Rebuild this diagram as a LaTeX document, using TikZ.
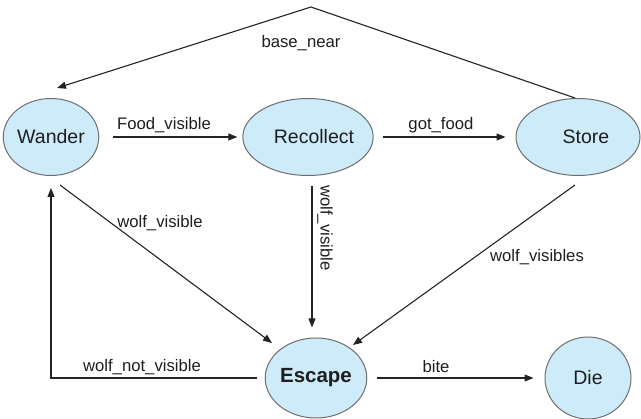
\documentclass[tikz,border=0pt]{standalone}
\usepackage{fontspec}
\setmainfont{Liberation Sans}
\usetikzlibrary{arrows.meta,shapes.geometric}
\definecolor{statefill}{RGB}{206,235,250}
\definecolor{stateline}{RGB}{110,110,110}
\definecolor{wire}{RGB}{35,35,35}
\definecolor{ink}{RGB}{30,30,30}
\begin{document}
\begin{tikzpicture}[x=1pt,y=-1pt,
  state/.style={ellipse,draw=stateline,fill=statefill,line width=1pt,inner sep=0pt,
    text=ink,font=\fontsize{19.5}{20}\selectfont},
  trans/.style={draw=wire,line width=1.1pt,-{Triangle[length=9pt,width=7pt]}},
  lbl/.style={font=\fontsize{16.7}{17}\selectfont,inner sep=0pt,text=ink}]
\useasboundingbox (0,0) rectangle (641,419);

% states
\node[state,minimum width=94,minimum height=77] (W) at (51,137) {Wander};
\node[state,minimum width=126,minimum height=77] (R) at (308,137) {\hspace{12pt}Recollect};
\node[state,minimum width=124,minimum height=77] (S) at (578,137) {\hspace{16pt}Store};
\node[state,minimum width=88,minimum height=80,font=\fontsize{20.5}{21}\selectfont\bfseries] (E) at (316,378) {Escape};
\node[state,minimum width=86,minimum height=82] (D) at (588,378) {Die};

% transitions
\coordinate (apex) at (311,7);
\draw[trans] ([xshift=-3pt]S.north) -- (apex) -- ([xshift=6pt,yshift=10pt]W.north);
\draw[trans] ([xshift=14pt]W.east) -- ([xshift=-5pt]R.west);
\draw[trans] ([xshift=9pt]R.east) -- ([xshift=-10pt]S.west);

\coordinate (rs) at ([xshift=4pt,yshift=-10pt]R.south);
\coordinate (en) at ([yshift=10pt]E.north);
\draw[trans] (rs) -- (rs |- en);

\draw[trans] ([shift={(9pt,-48pt)}]W.center) -- ([shift={(-44pt,35pt)}]E.center);
\draw[trans] ([shift={(-3pt,-48pt)}]S.center) -- ([shift={(37pt,33pt)}]E.center);
\draw[trans] ([xshift=-8pt]E.west) -| ([yshift=-12pt]W.south);
\draw[trans] ([xshift=10pt]E.east) -- ([xshift=-11pt]D.west);

% transition labels
\node[lbl] (l1) at (301,43) {base\_near};
\node[lbl] (l2) at (164,125) {Food\_visible};
\node[lbl] (l3) at (441,125) {got\_food};
\node[lbl] (l4) at (160,223) {wolf\_visible};
\node[lbl,rotate=-90] (l5) at (325,228) {wolf\_visible};
\node[lbl] (l6) at (537,257) {wolf\_visibles};
\node[lbl] (l7) at (142,367) {wolf\_not\_visible};
\node[lbl] (l8) at (436,367) {bite};
\end{tikzpicture}
\end{document}
